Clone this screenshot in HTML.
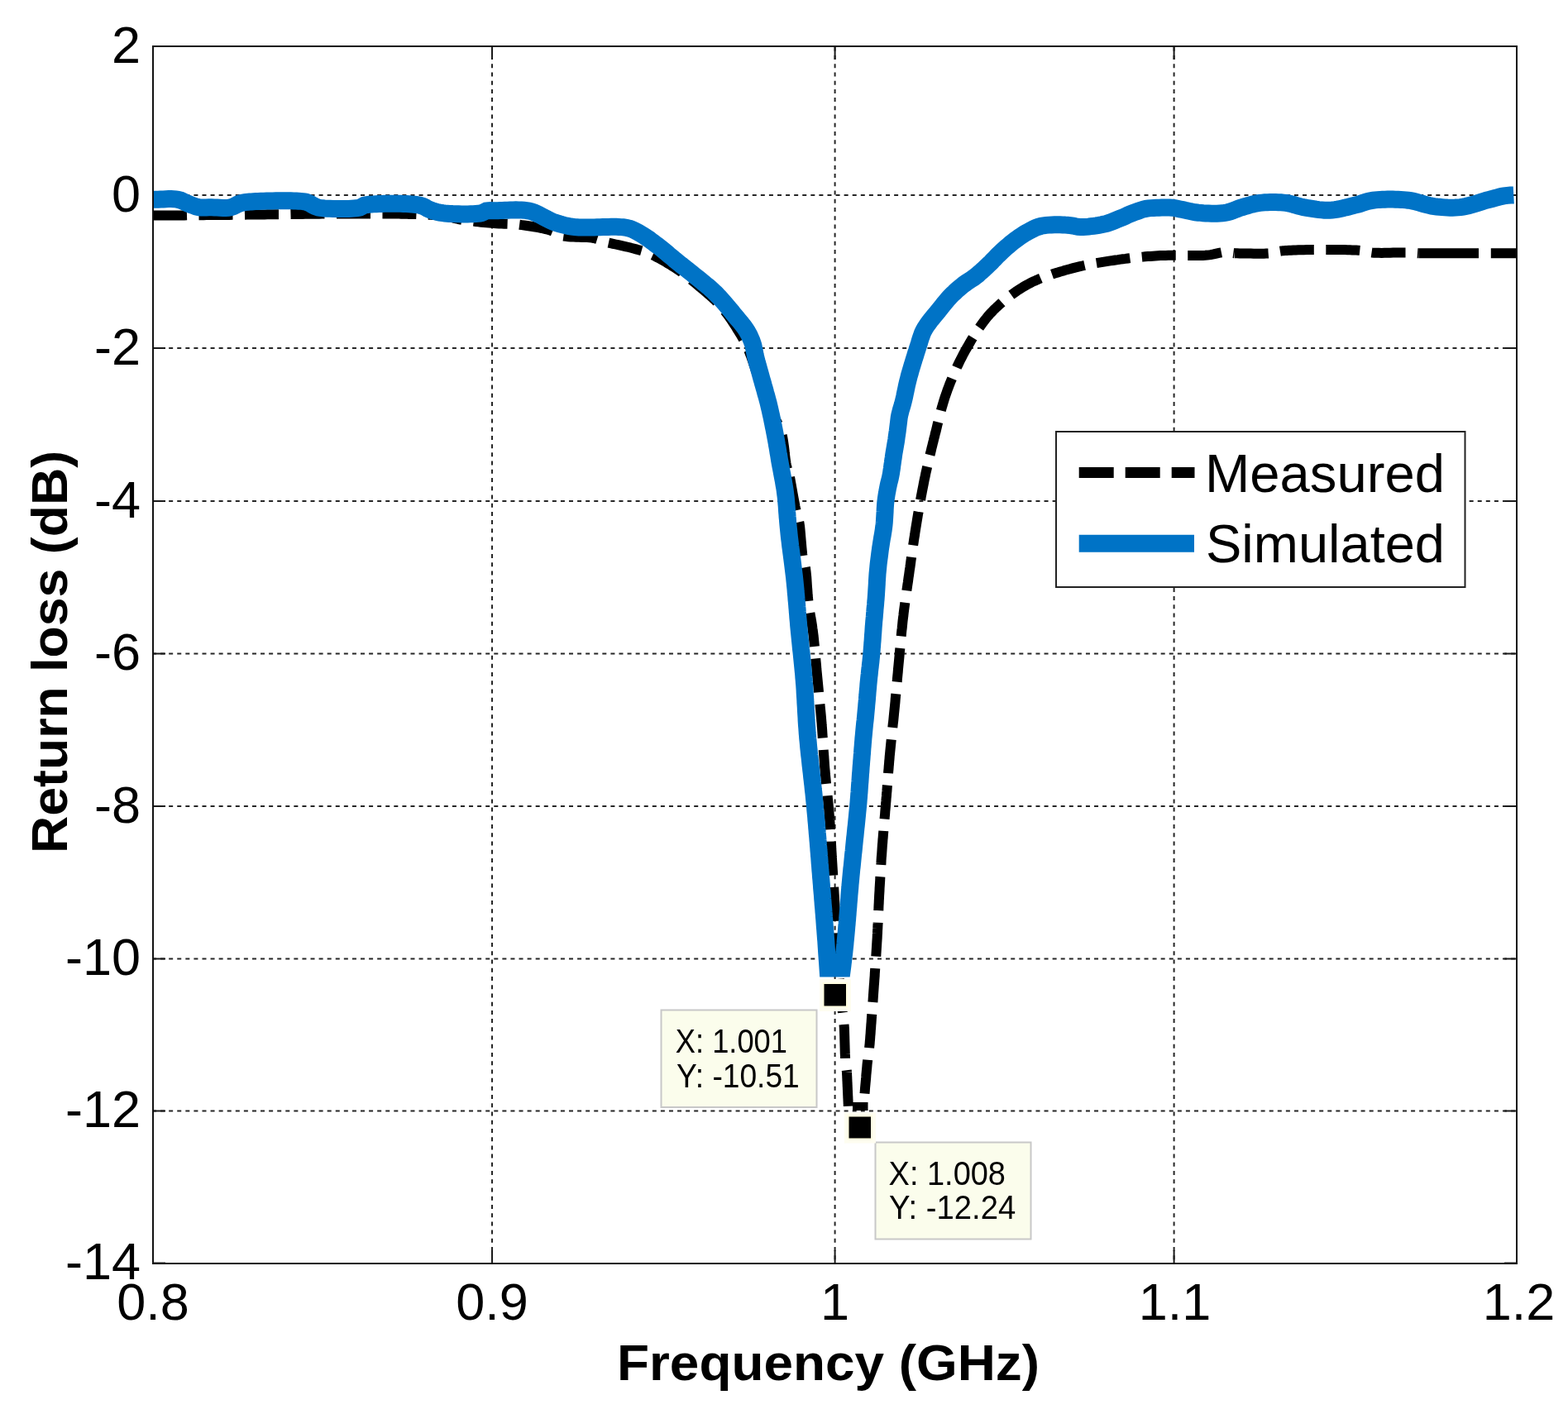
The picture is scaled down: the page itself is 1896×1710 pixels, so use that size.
<!DOCTYPE html><html><head><meta charset="utf-8"><title>Return loss plot</title><style>
html,body{margin:0;padding:0;background:#fff;width:1896px;height:1710px;overflow:hidden}
svg{display:block}text{font-family:"Liberation Sans",Arial,Helvetica,sans-serif;fill:#000}
</style></head><body>
<svg width="1896" height="1710" viewBox="0 0 1896 1710">
<rect x="0" y="0" width="1896" height="1710" fill="#fff"/>
<g stroke="#262626" stroke-width="2" fill="none">
<line x1="595" y1="56.8" x2="595" y2="1528" stroke-dasharray="5 5.22"/>
<line x1="1009.6" y1="56.8" x2="1009.6" y2="1528" stroke-dasharray="5 5.22"/>
<line x1="1419.6" y1="56.8" x2="1419.6" y2="1528" stroke-dasharray="5 5.22"/>
<line x1="185" y1="236" x2="1834" y2="236" stroke-dasharray="5 5.08" stroke-dashoffset="1"/>
<line x1="185" y1="421" x2="1834" y2="421" stroke-dasharray="5 5.08" stroke-dashoffset="1"/>
<line x1="185" y1="606" x2="1834" y2="606" stroke-dasharray="5 5.08" stroke-dashoffset="1"/>
<line x1="185" y1="790.5" x2="1834" y2="790.5" stroke-dasharray="5 5.08" stroke-dashoffset="1"/>
<line x1="185" y1="975" x2="1834" y2="975" stroke-dasharray="5 5.08" stroke-dashoffset="1"/>
<line x1="185" y1="1159.5" x2="1834" y2="1159.5" stroke-dasharray="5 5.08" stroke-dashoffset="1"/>
<line x1="185" y1="1343.5" x2="1834" y2="1343.5" stroke-dasharray="5 5.08" stroke-dashoffset="1"/>
</g>
<g stroke="#1a1a1a" stroke-width="2" fill="none">
<line x1="185" y1="56" x2="185" y2="72"/><line x1="185" y1="1528" x2="185" y2="1512"/>
<line x1="595" y1="56" x2="595" y2="72"/><line x1="595" y1="1528" x2="595" y2="1512"/>
<line x1="1009.6" y1="56" x2="1009.6" y2="72"/><line x1="1009.6" y1="1528" x2="1009.6" y2="1512"/>
<line x1="1419.6" y1="56" x2="1419.6" y2="72"/><line x1="1419.6" y1="1528" x2="1419.6" y2="1512"/>
<line x1="1834" y1="56" x2="1834" y2="72"/><line x1="1834" y1="1528" x2="1834" y2="1512"/>
<line x1="185" y1="56" x2="200" y2="56"/><line x1="1834" y1="56" x2="1819" y2="56"/>
<line x1="185" y1="236" x2="200" y2="236"/><line x1="1834" y1="236" x2="1819" y2="236"/>
<line x1="185" y1="421" x2="200" y2="421"/><line x1="1834" y1="421" x2="1819" y2="421"/>
<line x1="185" y1="606" x2="200" y2="606"/><line x1="1834" y1="606" x2="1819" y2="606"/>
<line x1="185" y1="790.5" x2="200" y2="790.5"/><line x1="1834" y1="790.5" x2="1819" y2="790.5"/>
<line x1="185" y1="975" x2="200" y2="975"/><line x1="1834" y1="975" x2="1819" y2="975"/>
<line x1="185" y1="1159.5" x2="200" y2="1159.5"/><line x1="1834" y1="1159.5" x2="1819" y2="1159.5"/>
<line x1="185" y1="1343.5" x2="200" y2="1343.5"/><line x1="1834" y1="1343.5" x2="1819" y2="1343.5"/>
<line x1="185" y1="1527.5" x2="200" y2="1527.5"/><line x1="1834" y1="1527.5" x2="1819" y2="1527.5"/>
</g>
<clipPath id="ax"><rect x="185" y="56" width="1649" height="1472"/></clipPath>
<g clip-path="url(#ax)" fill="none">
<polyline points="1715.3,306.3 1788.0,306.3" stroke="#000" stroke-width="12"/>
<polyline points="1024.0,1296.8 1025.9,1339.4" stroke="#000" stroke-width="12" stroke-dasharray="41 14.5"/>
<polyline points="1031.0,1338.0 1049.5,1338.0" stroke="#000" stroke-width="10"/>
<polyline points="185.0,260.5 188.0,260.5 191.1,260.5 194.1,260.5 197.2,260.5 200.3,260.5 203.5,260.5 206.7,260.5 209.8,260.4 213.1,260.4 216.3,260.4 219.6,260.4 222.8,260.4 226.1,260.3 229.4,260.3 232.8,260.3 236.1,260.3 239.5,260.2 242.9,260.2 246.3,260.2 249.7,260.1 253.1,260.1 256.6,260.1 260.0,260.0 263.5,260.0 267.0,260.0 270.4,259.9 273.9,259.9 277.4,259.9 280.9,259.8 284.5,259.8 288.0,259.7 291.5,259.7 295.0,259.7 298.6,259.6 302.1,259.6 305.7,259.5 309.2,259.5 312.8,259.5 316.3,259.4 319.8,259.4 323.4,259.3 326.9,259.3 330.5,259.3 334.0,259.2 337.5,259.2 341.1,259.1 344.6,259.1 348.1,259.1 351.6,259.0 355.1,259.0 358.6,258.9 362.1,258.9 365.5,258.9 369.0,258.8 372.5,258.8 375.9,258.8 379.3,258.7 382.7,258.7 386.1,258.7 389.5,258.6 392.9,258.6 396.2,258.6 399.5,258.6 402.8,258.5 406.1,258.5 409.4,258.5 412.7,258.5 415.9,258.5 419.1,258.4 422.3,258.4 425.4,258.4 428.6,258.4 431.7,258.4 434.8,258.4 437.8,258.4 440.9,258.4 443.9,258.4 446.8,258.4 449.8,258.4 452.7,258.4 455.6,258.4 458.5,258.4 461.3,258.4 464.1,258.4 466.8,258.5 469.5,258.5 472.2,258.5 474.9,258.5 477.5,258.6 480.1,258.6 482.6,258.6 485.1,258.7 487.5,258.7 490.0,258.8 492.3,258.8 494.7,258.9 497.0,258.9 499.2,259.0 501.4,259.0 503.6,259.1 505.7,259.2 507.7,259.2 509.8,259.3 511.7,259.4 513.6,259.5 515.5,259.6 517.3,259.6 519.1,259.7 520.8,259.8 522.5,259.9 524.1,260.0 525.7,260.1 527.2,260.3 528.6,260.4 530.0,260.5 534.3,261.0 538.1,261.5 541.3,262.0 544.2,262.6 546.8,263.2 549.3,263.8 551.7,264.4 554.2,265.0 557.0,265.5 560.0,266.0 562.9,266.4 565.9,266.8 569.0,267.2 572.2,267.6 575.4,268.0 578.6,268.3 581.8,268.7 585.0,269.0 588.2,269.3 591.3,269.6 594.3,269.8 597.2,270.1 600.0,270.3 603.4,270.5 606.5,270.6 609.6,270.7 612.5,270.7 615.5,270.8 618.5,270.9 621.6,271.1 625.0,271.4 627.8,271.7 630.9,272.1 634.0,272.5 637.3,273.0 640.7,273.5 644.1,274.0 647.4,274.6 650.8,275.2 654.0,275.8 657.0,276.4 659.9,277.1 662.6,277.8 665.0,278.5 668.2,279.8 670.8,281.2 673.2,282.6 675.8,283.9 679.0,285.0 681.4,285.5 684.1,285.9 687.0,286.2 690.1,286.4 693.4,286.6 696.7,286.7 700.1,286.8 703.4,286.9 706.7,287.0 709.9,287.1 712.8,287.3 715.6,287.6 718.0,288.0 721.4,288.8 724.3,289.7 726.9,290.7 729.7,291.8 733.0,292.8 735.5,293.5 738.3,294.1 741.3,294.8 744.4,295.5 747.6,296.2 750.8,296.9 754.0,297.6 757.2,298.3 760.3,299.0 763.2,299.8 766.0,300.5 769.2,301.4 772.3,302.2 775.2,303.1 778.0,303.9 780.9,304.9 783.8,306.1 787.0,307.4 789.4,308.5 791.9,309.7 794.5,311.1 797.2,312.5 799.9,314.0 802.6,315.5 805.4,317.1 808.1,318.8 810.8,320.4 813.5,322.1 816.1,323.8 818.6,325.4 821.0,327.0 823.6,328.8 826.1,330.6 828.6,332.5 831.0,334.3 833.3,336.2 835.6,338.1 837.9,340.0 840.2,341.9 842.6,343.9 845.0,346.0 847.3,347.9 849.6,349.8 851.9,351.8 854.2,353.8 856.6,355.8 858.9,357.8 861.2,359.9 863.5,362.0 865.8,364.2 868.0,366.4 870.2,368.7 872.3,371.0 874.3,373.4 876.3,375.9 878.3,378.5 880.3,381.2 882.2,384.0 884.2,386.7 886.0,389.5 887.8,392.3 889.6,395.0 891.2,397.7 892.8,400.2 894.3,402.7 895.7,405.0 897.6,408.2 899.2,411.1 900.7,413.9 902.1,416.6 903.5,419.6 905.0,423.0 906.0,425.4 907.0,428.0 908.0,430.6 909.0,433.5 910.0,436.3 911.0,439.3 912.0,442.3 913.0,445.3 914.0,448.4 915.0,451.4 916.0,454.3 917.0,457.2 918.0,460.0 919.1,463.0 920.2,466.0 921.2,468.9 922.3,471.9 923.3,474.8 924.4,477.7 925.4,480.6 926.5,483.5 927.7,486.3 928.8,489.2 930.0,492.0 931.3,494.8 932.6,497.5 934.0,500.1 935.4,502.8 936.9,505.4 938.3,508.0 939.7,510.7 941.1,513.4 942.3,516.2 943.5,519.0 944.5,522.0 945.3,525.0 946.1,528.1 946.7,531.4 947.2,534.7 947.7,538.2 948.2,541.6 948.6,545.1 948.9,548.5 949.3,551.7 949.7,554.9 950.1,557.8 950.5,560.5 951.0,563.0 952.0,567.0 953.0,570.5 954.0,573.7 955.0,577.0" stroke="#000" stroke-width="12" stroke-dasharray="41 14.5" stroke-dashoffset="0" stroke-linejoin="round"/>
<polyline points="955.0,577.0 955.6,580.2 956.2,583.5 956.8,586.8 957.4,590.2 958.0,593.6 958.6,597.0 959.2,600.3 959.8,603.6 960.4,606.7 961.0,609.7 961.5,612.6 962.1,615.3 962.6,617.7 963.6,621.6 964.6,624.8 965.5,628.1 966.4,632.0 966.8,634.5 967.2,637.3 967.5,640.4 967.8,643.7 968.1,647.2 968.4,650.7 968.7,654.3 969.0,657.8 969.3,661.3 969.6,664.6 969.9,667.7 970.2,670.5 970.6,673.0 971.4,676.9 972.3,680.0 973.2,683.1 974.0,687.0 974.3,689.3 974.6,691.8 974.9,694.6 975.2,697.5 975.4,700.5 975.6,703.6 975.8,706.9 976.0,710.1 976.3,713.4 976.5,716.7 976.7,719.9 977.0,723.0 977.3,726.1 977.6,729.0 978.0,732.2 978.5,735.3 978.9,738.4 979.4,741.4 979.9,744.3 980.4,747.3 981.0,750.3 981.5,753.4 982.0,756.5 982.4,759.8 982.9,763.2 983.2,765.9 983.6,768.7 983.9,771.6 984.2,774.5 984.5,777.5 984.8,780.5 985.1,783.5 985.4,786.6 985.7,789.7 985.9,792.9 986.2,796.0 986.5,799.2 986.8,802.4 987.1,805.5 987.3,808.7 987.6,811.8 987.9,814.9 988.2,818.0 988.5,821.1 988.8,824.2 989.1,827.3 989.4,830.4 989.7,833.6 990.0,836.7 990.3,839.8 990.6,842.9 990.9,846.1 991.2,849.2 991.5,852.3 991.8,855.5 992.1,858.6 992.4,861.7 992.7,864.8 993.0,868.0 993.2,871.1 993.5,874.2 993.7,877.3 994.0,880.4 994.2,883.5 994.4,886.6 994.6,889.7 994.8,892.8 995.0,895.9 995.2,899.0 995.4,902.1 995.6,905.2 995.8,908.3 996.0,911.4 996.3,914.5 996.5,917.6 996.7,920.7 996.9,923.8 997.1,926.9 997.4,930.0 997.7,933.1 997.9,936.1 998.2,939.2 998.5,942.2 998.8,945.3 999.1,948.3 999.4,951.4 999.8,954.4 1000.1,957.5 1000.4,960.5 1000.7,963.6 1001.0,966.6 1001.3,969.7 1001.6,972.7 1001.9,975.8 1002.2,978.8 1002.4,981.9 1002.7,985.0 1002.9,988.0 1003.1,991.0 1003.4,993.9 1003.6,996.9 1003.8,999.9 1003.9,1002.9 1004.1,1005.9 1004.3,1008.9 1004.5,1012.0 1004.7,1015.0 1004.8,1018.0 1005.0,1021.0 1005.2,1024.0 1005.3,1027.0 1005.5,1030.0 1005.7,1033.0 1005.8,1036.0 1006.0,1039.0 1006.2,1042.0 1006.4,1045.1 1006.6,1048.3 1006.8,1051.5 1007.0,1054.7 1007.2,1058.0 1007.4,1061.2 1007.6,1064.4 1007.8,1067.6 1008.0,1070.8 1008.2,1074.0 1008.4,1077.2 1008.6,1080.3 1008.8,1083.4 1009.0,1086.4 1009.1,1089.4 1009.3,1092.4 1009.5,1095.2 1009.6,1098.0 1009.8,1101.5 1009.9,1104.8 1010.0,1107.9 1010.1,1111.0 1010.2,1114.1 1010.3,1117.1 1010.4,1120.1 1010.5,1123.2 1010.7,1126.3 1010.8,1129.6 1011.0,1133.0 1011.2,1135.8 1011.4,1138.7 1011.5,1141.7 1011.8,1144.7 1012.0,1147.8 1012.2,1150.9 1012.4,1154.0 1012.7,1157.2 1012.9,1160.4 1013.2,1163.6 1013.4,1166.7 1013.7,1169.9 1014.0,1173.0 1014.2,1176.1 1014.5,1179.1 1014.7,1182.1 1015.0,1185.0 1015.3,1188.3 1015.6,1191.6 1015.9,1195.0 1016.3,1198.3 1016.6,1201.6 1016.9,1204.8 1017.2,1208.0 1017.6,1211.2 1017.9,1214.2 1018.2,1217.1 1018.5,1219.9 1018.7,1222.5 1019.0,1225.0 1019.4,1228.6 1019.8,1231.6 1020.1,1234.5 1020.4,1237.6 1020.7,1241.2 1020.9,1243.8 1021.0,1246.8 1021.1,1249.9 1021.2,1253.3 1021.3,1256.8 1021.4,1260.4 1021.5,1264.0 1021.6,1267.5 1021.7,1271.0 1021.8,1274.3 1022.0,1277.4 1022.1,1280.3 1022.3,1282.8 1022.7,1286.8 1023.1,1290.3 1023.6,1293.5 1024.0,1296.8" stroke="#000" stroke-width="12" stroke-dasharray="41 14.5" stroke-dashoffset="0" stroke-linejoin="round"/>
<polyline points="1045.5,1322.5 1045.8,1319.4 1046.0,1316.3 1046.3,1313.0 1046.6,1309.8 1046.9,1306.5 1047.2,1303.2 1047.4,1299.9 1047.7,1296.8 1048.0,1293.7 1048.3,1290.7 1048.5,1287.8 1048.8,1285.1 1049.1,1282.7 1049.3,1280.4 1049.8,1276.8 1050.2,1273.9 1050.7,1271.0 1051.1,1267.4 1051.3,1265.1 1051.6,1262.5 1051.8,1259.6 1052.1,1256.5 1052.3,1253.3 1052.6,1250.0 1052.8,1246.6 1053.1,1243.1 1053.3,1239.8 1053.6,1236.4 1053.8,1233.2 1054.0,1230.2 1054.2,1227.4 1054.4,1224.8 1054.7,1221.2 1054.9,1218.0 1055.1,1215.0 1055.4,1212.1 1055.6,1209.1 1055.8,1206.0 1056.0,1203.1 1056.2,1200.3 1056.4,1197.5 1056.6,1194.7 1056.8,1191.7 1057.1,1188.5 1057.3,1185.0 1057.5,1182.5 1057.7,1180.0 1057.8,1177.3 1058.0,1174.5 1058.2,1171.6 1058.4,1168.6 1058.7,1165.6 1058.9,1162.5 1059.1,1159.3 1059.3,1156.2 1059.5,1153.0 1059.7,1149.8 1059.9,1146.5 1060.1,1143.3 1060.3,1140.1 1060.5,1137.0 1060.7,1134.1 1060.8,1131.2 1061.0,1128.3 1061.1,1125.3 1061.3,1122.3 1061.4,1119.3 1061.6,1116.3 1061.7,1113.3 1061.8,1110.3 1062.0,1107.2 1062.1,1104.2 1062.3,1101.1 1062.4,1098.1 1062.5,1095.1 1062.7,1092.0 1062.8,1089.0 1063.0,1086.0 1063.1,1083.0 1063.3,1080.0 1063.5,1076.9 1063.6,1073.8 1063.8,1070.8 1064.0,1067.7 1064.2,1064.7 1064.3,1061.6 1064.5,1058.6 1064.7,1055.5 1064.9,1052.5 1065.1,1049.4 1065.3,1046.4 1065.5,1043.3 1065.6,1040.3 1065.8,1037.2 1066.1,1034.2 1066.3,1031.1 1066.5,1028.1 1066.7,1025.0 1066.9,1021.9 1067.2,1018.8 1067.4,1015.7 1067.7,1012.6 1067.9,1009.5 1068.2,1006.4 1068.4,1003.3 1068.7,1000.2 1069.0,997.1 1069.3,993.9 1069.5,990.8 1069.8,987.7 1070.1,984.6 1070.3,981.5 1070.6,978.4 1070.9,975.2 1071.1,972.1 1071.4,969.0 1071.6,966.0 1071.9,963.0 1072.1,960.0 1072.4,957.0 1072.6,954.0 1072.8,951.0 1073.1,948.0 1073.3,945.0 1073.5,941.9 1073.8,938.9 1074.0,935.9 1074.2,932.9 1074.5,929.9 1074.7,926.9 1075.0,923.9 1075.2,920.9 1075.5,917.9 1075.7,915.0 1076.0,912.0 1076.3,908.9 1076.6,905.9 1076.9,902.9 1077.2,899.8 1077.5,896.8 1077.8,893.8 1078.1,890.8 1078.4,887.8 1078.8,884.8 1079.1,881.8 1079.4,878.8 1079.7,875.8 1080.1,872.8 1080.4,869.8 1080.7,866.7 1081.0,863.7 1081.3,860.7 1081.6,857.7 1081.9,854.7 1082.2,851.6 1082.5,848.6 1082.7,845.6 1083.0,842.5 1083.3,839.5 1083.6,836.5 1083.8,833.4 1084.1,830.4 1084.4,827.4 1084.7,824.3 1084.9,821.3 1085.2,818.2 1085.5,815.2 1085.8,812.1 1086.0,809.1 1086.3,806.1 1086.6,803.0 1086.9,799.9 1087.2,796.8 1087.5,793.7 1087.7,790.6 1088.0,787.6 1088.3,784.5 1088.6,781.4 1088.9,778.3 1089.1,775.2 1089.4,772.1 1089.7,769.0 1090.0,765.9 1090.3,762.8 1090.7,759.7 1091.0,756.6 1091.3,753.5 1091.6,750.4 1092.0,747.3 1092.4,744.2 1092.7,741.2 1093.1,738.1 1093.5,735.0 1093.9,732.0 1094.3,728.9 1094.7,725.8 1095.2,722.8 1095.6,719.7 1096.0,716.6 1096.4,713.6 1096.9,710.5 1097.3,707.5 1097.8,704.4 1098.2,701.4 1098.6,698.3 1099.1,695.3 1099.5,692.2 1099.9,689.2 1100.4,686.1 1100.8,683.1 1101.2,680.1 1101.6,677.0 1102.1,674.0 1102.5,671.0 1102.9,667.9 1103.4,664.9 1103.8,661.9 1104.2,658.8 1104.7,655.8 1105.1,652.8 1105.6,649.8 1106.1,646.7 1106.5,643.7 1107.0,640.6 1107.5,637.6 1108.0,634.5 1108.5,631.4 1109.0,628.3 1109.5,625.2 1110.0,622.1 1110.6,619.0 1111.1,615.9 1111.6,612.8 1112.2,609.7 1112.7,606.6 1113.3,603.5 1113.8,600.4 1114.4,597.3 1115.0,594.2 1115.6,591.1 1116.2,588.1 1116.8,585.0 1117.4,581.9 1118.0,578.8 1118.7,575.8 1119.3,572.7 1120.0,569.7 1120.7,566.6 1121.4,563.6 1122.1,560.5 1122.8,557.5 1123.5,554.4 1124.2,551.4 1125.0,548.3 1125.7,545.3 1126.4,542.3 1127.2,539.3 1127.9,536.2 1128.7,533.2 1129.4,530.2 1130.2,527.2 1130.9,524.2 1131.7,521.3 1132.4,518.3 1133.1,515.4 1133.8,512.4 1134.6,509.5 1135.3,506.5 1136.0,503.6 1136.8,500.7 1137.5,497.8 1138.3,494.8 1139.1,491.9 1140.0,489.0 1140.8,486.1 1141.7,483.2 1142.6,480.3 1143.6,477.5 1144.6,474.6 1145.6,471.7 1146.7,468.8 1147.8,465.9 1148.9,463.0 1150.1,460.2 1151.3,457.3 1152.5,454.4 1153.7,451.5 1154.9,448.7 1156.2,445.9 1157.5,443.0 1158.9,440.2 1160.2,437.4 1161.6,434.6 1163.0,431.9 1164.4,429.1 1165.9,426.4 1167.4,423.7 1168.9,421.0 1170.4,418.3 1172.0,415.7 1173.5,413.0 1175.1,410.3 1176.7,407.7 1178.3,405.0 1180.0,402.4 1181.7,399.8 1183.4,397.2 1185.2,394.7 1187.0,392.2 1188.8,389.7 1190.7,387.3 1192.6,384.9 1194.5,382.5 1196.5,380.2 1198.6,378.0 1200.7,375.8 1202.9,373.6 1205.1,371.5 1207.4,369.4 1209.7,367.3 1212.0,365.2 1214.4,363.2 1216.8,361.3 1219.3,359.3 1221.8,357.4 1224.3,355.6 1226.8,353.8 1229.4,352.0 1232.0,350.3 1234.6,348.7 1237.2,347.0 1239.8,345.5 1242.5,344.0 1245.2,342.6 1247.9,341.2 1250.6,339.9 1253.3,338.7 1256.1,337.5 1258.9,336.3 1261.8,335.2 1264.7,334.2 1267.5,333.2 1270.4,332.2 1273.3,331.2 1276.3,330.3 1279.2,329.4 1282.1,328.5 1285.1,327.7 1288.0,326.8 1291.0,326.0 1293.9,325.2 1296.9,324.4 1299.9,323.6 1302.9,322.9 1305.9,322.2 1308.9,321.5 1312.0,320.8 1315.0,320.2 1318.1,319.6 1321.2,319.0 1324.2,318.4 1327.3,317.9 1330.4,317.4 1333.5,316.9 1336.5,316.4 1339.6,315.9 1342.7,315.4 1345.7,315.0 1348.8,314.5 1351.8,314.1 1354.8,313.6 1357.8,313.2 1360.8,312.9 1363.8,312.5 1366.8,312.1 1369.9,311.8 1372.9,311.5 1375.9,311.2 1378.9,310.9 1381.9,310.6 1384.9,310.3 1387.9,310.1 1390.9,309.9 1394.0,309.7 1397.0,309.5 1400.1,309.3 1403.1,309.1 1406.3,309.0 1409.5,308.9 1412.8,308.8 1416.1,308.8 1419.5,308.8 1422.9,308.8 1426.3,308.9 1429.7,308.9 1433.1,309.0 1436.4,309.0 1439.7,309.1 1442.9,309.1 1446.0,309.1 1449.0,309.1 1451.9,309.0 1454.7,308.9 1457.3,308.8 1459.7,308.6 1463.7,308.1 1467.4,307.4 1470.8,306.6 1474.0,305.9 1477.0,305.3 1480.0,305.0 1483.4,305.1 1486.5,305.4 1489.6,305.9 1492.7,306.3" stroke="#000" stroke-width="12" stroke-dasharray="41 14.5" stroke-dashoffset="0" stroke-linejoin="round"/>
<polyline points="1492.7,306.3 1495.8,306.3 1499.1,306.4 1502.4,306.4 1505.8,306.5 1509.2,306.6 1512.5,306.6 1515.9,306.7 1519.1,306.7 1522.3,306.8 1525.4,306.8 1528.3,306.7 1531.1,306.6 1533.6,306.5 1536.0,306.3 1539.8,305.7 1542.7,304.9 1545.8,304.1 1550.0,303.4 1551.8,303.2 1553.8,303.1 1556.0,302.9 1558.5,302.8 1561.1,302.7 1563.9,302.5 1566.9,302.4 1570.0,302.3 1573.3,302.2 1576.6,302.2 1580.1,302.1 1583.6,302.0 1587.2,302.0 1590.8,302.0 1594.5,301.9 1598.2,301.9 1601.9,301.9 1605.5,301.9 1609.1,301.9 1612.7,301.9 1616.2,302.0 1619.7,302.0 1623.0,302.1 1626.2,302.1 1629.3,302.2 1632.3,302.3 1635.1,302.4 1637.7,302.5 1640.1,302.6 1642.3,302.7 1644.3,302.9 1646.0,303.0 1649.9,303.6 1652.8,304.3 1655.5,305.0 1659.0,305.5 1661.5,305.7 1664.2,305.8 1667.3,305.8 1670.6,305.9 1674.0,305.8 1677.5,305.8 1681.1,305.7 1684.6,305.6 1688.1,305.6 1691.4,305.5 1694.6,305.5 1697.4,305.5 1700.0,305.5 1703.5,305.6 1706.7,305.8 1709.5,306.0 1712.4,306.1 1715.3,306.3" stroke="#000" stroke-width="12" stroke-dasharray="41 14.5" stroke-dashoffset="0" stroke-linejoin="round"/>
<polyline points="1802.8,306.3 1806.0,306.3 1809.1,306.3 1812.3,306.3 1815.5,306.3 1818.6,306.3 1821.8,306.3 1825.0,306.3 1828.2,306.3 1831.3,306.3 1834.5,306.3" stroke="#000" stroke-width="12" stroke-dasharray="41 14.5" stroke-dashoffset="0" stroke-linejoin="round"/>
<polyline points="185.0,241.3 188.1,241.3 191.2,241.2 194.4,241.0 197.6,240.9 200.8,240.7 203.9,240.6 207.0,240.6 209.8,240.7 212.5,240.9 215.0,241.3 218.7,242.3 221.9,243.7 224.9,245.2 228.0,246.5 231.0,247.7 233.9,248.8 236.9,249.9 240.0,250.6 243.0,250.9 246.1,251.0 249.3,251.0 252.6,250.8 256.0,250.8 259.1,250.9 262.5,251.0 266.0,251.2 269.6,251.4 273.0,251.4 276.2,251.2 279.0,250.8 282.1,249.8 284.8,248.5 287.4,247.1 290.0,246.0 293.0,245.2 296.0,244.6 300.0,244.2 301.8,244.0 304.0,243.9 306.5,243.7 309.3,243.6 312.3,243.5 315.5,243.3 318.9,243.2 322.4,243.1 326.1,243.0 329.8,242.9 333.5,242.8 337.3,242.8 341.0,242.7 344.7,242.7 348.3,242.8 351.8,242.8 355.1,242.9 358.3,243.0 361.2,243.2 363.9,243.4 366.2,243.6 368.3,243.9 370.0,244.2 374.6,246.0 378.0,248.0 381.1,249.7 385.0,251.1 387.0,251.4 389.4,251.7 392.2,252.0 395.4,252.2 398.9,252.3 402.6,252.5 406.4,252.5 410.3,252.6 414.2,252.6 417.9,252.5 421.6,252.4 425.0,252.2 428.1,252.0 430.9,251.8 433.2,251.5 435.0,251.1 437.7,249.7 440.5,248.2 442.0,247.9 444.0,247.6 446.3,247.3 448.9,247.1 451.7,246.9 454.9,246.7 458.2,246.5 461.7,246.4 465.3,246.3 469.0,246.3 472.8,246.2 476.6,246.2 480.3,246.3 484.1,246.3 487.7,246.4 491.2,246.6 494.5,246.8 497.7,247.0 500.6,247.2 503.3,247.5 505.6,247.8 507.6,248.2 511.4,249.4 514.4,250.8 517.0,252.4 520.0,253.7 522.8,254.7 525.6,255.6 528.5,256.4 531.7,257.1 535.4,257.7 537.9,258.0 540.7,258.2 543.9,258.4 547.2,258.6 550.8,258.7 554.5,258.8 558.2,258.9 562.0,258.9 565.6,258.9 569.1,258.8 572.4,258.7 575.4,258.5 578.1,258.3 580.5,258.0 582.3,257.7 585.4,256.3 588.0,255.0 590.5,254.7 593.3,254.6 596.4,254.7 600.0,254.8 602.3,254.8 604.9,254.6 607.7,254.5 610.7,254.3 613.8,254.2 617.1,254.0 620.4,253.9 623.8,253.8 627.1,253.9 630.4,254.0 633.6,254.2 636.7,254.6 639.6,255.1 642.7,255.9 645.7,256.9 648.6,258.2 651.5,259.5 654.4,261.0 657.2,262.5 660.0,264.0 662.8,265.4 665.6,266.8 668.3,268.0 671.0,269.0 674.0,270.0 676.9,270.9 679.7,271.7 682.4,272.4 685.2,273.0 688.2,273.6 691.4,274.1 695.0,274.6 697.4,274.8 700.0,275.0 702.8,275.1 705.7,275.1 708.8,275.1 712.0,275.1 715.3,275.0 718.6,274.9 722.0,274.8 725.5,274.7 728.9,274.6 732.3,274.5 735.6,274.4 738.9,274.3 742.1,274.3 745.2,274.3 748.1,274.4 750.9,274.6 753.5,274.8 755.9,275.1 758.0,275.5 761.5,276.4 764.5,277.5 767.2,278.7 769.8,280.0 772.3,281.4 775.0,283.0 777.5,284.5 779.9,286.0 782.4,287.7 784.9,289.4 787.4,291.3 789.9,293.2 792.4,295.1 795.0,297.0 797.3,298.8 799.6,300.6 802.0,302.5 804.3,304.4 806.7,306.4 809.0,308.4 811.4,310.3 813.8,312.3 816.1,314.3 818.5,316.2 821.1,318.3 823.7,320.4 826.3,322.4 828.9,324.5 831.5,326.5 834.1,328.6 836.7,330.7 839.3,332.8 841.9,334.9 844.3,336.8 846.6,338.7 849.0,340.6 851.4,342.6 853.7,344.5 856.1,346.4 858.4,348.4 860.7,350.5 863.0,352.6 865.3,354.8 867.5,357.1 869.8,359.4 872.0,361.9 874.2,364.4 876.4,366.9 878.6,369.5 880.7,372.0 882.8,374.5 884.9,377.0 886.8,379.4 888.7,381.7 891.0,384.5 893.3,387.2 895.5,389.8 897.5,392.4 899.5,394.9 901.3,397.4 903.0,400.0 904.7,403.0 906.3,405.9 907.6,408.9 908.9,411.9 910.0,415.0 910.9,417.9 911.5,420.8 912.1,423.7 912.7,426.8 913.3,429.9 914.0,433.0 914.8,436.0 915.6,439.1 916.5,442.1 917.4,445.3 918.3,448.5 919.2,451.8 920.2,455.3 920.9,457.9 921.7,460.7 922.5,463.5 923.3,466.4 924.2,469.4 925.0,472.3 925.8,475.4 926.7,478.4 927.5,481.4 928.3,484.4 929.1,487.4 929.8,490.4 930.6,493.6 931.3,496.7 932.0,499.9 932.7,503.1 933.4,506.3 934.0,509.5 934.7,512.7 935.3,515.8 936.0,519.0 936.6,522.2 937.2,525.4 937.8,528.6 938.4,531.8 939.0,535.0 939.5,538.2 940.1,541.3 940.6,544.5 941.1,547.7 941.7,550.9 942.2,554.1 942.7,557.3 943.3,560.5 943.9,563.7 944.5,566.9 945.1,570.1 945.7,573.3 946.3,576.4 946.9,579.6 947.5,582.8 948.0,586.0 948.6,589.2 949.1,592.4 949.5,595.6 949.9,598.8 950.3,602.1 950.6,605.4 950.9,608.8 951.2,612.1 951.4,615.4 951.6,618.7 951.9,621.9 952.1,625.0 952.4,627.9 952.6,630.7 952.9,634.1 953.2,637.2 953.5,640.1 953.8,643.1 954.1,646.3 954.5,650.0 954.8,652.4 955.1,654.8 955.4,657.5 955.7,660.2 956.1,663.0 956.5,666.0 956.9,669.0 957.3,672.0 957.7,675.2 958.1,678.3 958.5,681.6 958.9,684.8 959.3,688.0 959.7,691.2 960.1,694.5 960.5,697.6 960.8,700.8 961.1,703.7 961.4,706.7 961.7,709.6 962.0,712.6 962.2,715.6 962.5,718.7 962.8,721.7 963.0,724.8 963.3,727.8 963.6,730.9 963.8,734.0 964.1,737.1 964.3,740.2 964.6,743.3 964.8,746.3 965.1,749.4 965.4,752.5 965.6,755.6 965.9,758.7 966.2,761.7 966.5,764.7 966.8,767.8 967.1,770.8 967.4,773.8 967.7,776.8 968.0,779.8 968.3,782.9 968.6,785.9 969.0,788.9 969.3,791.9 969.6,794.9 969.9,797.9 970.2,801.0 970.5,804.0 970.8,807.1 971.1,810.1 971.4,813.2 971.7,816.3 971.9,819.4 972.2,822.5 972.4,825.5 972.7,828.5 972.9,831.5 973.1,834.5 973.2,837.5 973.4,840.5 973.6,843.5 973.8,846.5 973.9,849.5 974.1,852.5 974.3,855.6 974.4,858.6 974.6,861.7 974.8,864.8 975.0,867.9 975.1,871.0 975.3,874.1 975.5,877.2 975.8,880.4 976.0,883.6 976.2,886.8 976.5,890.0 976.7,892.8 977.0,895.7 977.3,898.6 977.5,901.4 977.8,904.3 978.1,907.2 978.4,910.2 978.7,913.1 979.1,916.1 979.4,919.0 979.7,922.0 980.0,925.0 980.4,928.0 980.7,931.0 981.1,934.0 981.4,937.0 981.7,940.0 982.1,943.0 982.4,946.1 982.8,949.1 983.1,952.2 983.4,955.2 983.8,958.3 984.1,961.3 984.4,964.4 984.7,967.5 985.0,970.5 985.3,973.6 985.6,976.5 985.8,979.5 986.1,982.5 986.4,985.5 986.7,988.5 986.9,991.6 987.2,994.6 987.5,997.7 987.7,1000.8 988.0,1003.9 988.2,1007.0 988.5,1010.1 988.8,1013.2 989.0,1016.2 989.3,1019.3 989.5,1022.4 989.8,1025.5 990.0,1028.6 990.3,1031.7 990.5,1034.7 990.8,1037.8 991.0,1040.8 991.2,1043.8 991.5,1046.8 991.7,1049.8 991.9,1052.7 992.2,1055.6 992.4,1058.5 992.6,1061.4 992.9,1064.2 993.1,1067.0 993.4,1070.3 993.6,1073.7 993.9,1077.0 994.2,1080.3 994.5,1083.6 994.7,1086.9 995.0,1090.2 995.2,1093.4 995.5,1096.6 995.8,1099.8 996.0,1103.0 996.3,1106.1 996.5,1109.2 996.8,1112.3 997.0,1115.3 997.2,1118.3 997.4,1121.2 997.7,1124.1 997.9,1126.9 998.1,1129.7 998.3,1132.4 998.5,1135.0 998.8,1138.4 999.0,1141.7 999.2,1144.8 999.4,1147.8 999.6,1150.8 999.8,1153.7 1000.0,1156.6 1000.2,1159.4 1000.4,1162.3 1000.6,1165.1 1000.8,1168.0 1001.0,1171.0 1018.5,1171.0 1018.9,1168.0 1019.2,1165.1 1019.6,1162.1 1019.9,1159.2 1020.3,1156.2 1020.7,1153.1 1021.0,1150.0 1021.3,1147.2 1021.6,1144.4 1021.9,1141.6 1022.1,1138.8 1022.4,1135.9 1022.7,1132.8 1023.0,1129.7 1023.3,1126.4 1023.6,1123.0 1023.8,1120.4 1024.1,1117.6 1024.3,1114.8 1024.6,1111.8 1024.8,1108.8 1025.1,1105.6 1025.3,1102.5 1025.6,1099.2 1025.9,1096.0 1026.1,1092.7 1026.4,1089.4 1026.7,1086.0 1026.9,1082.8 1027.2,1079.5 1027.5,1076.3 1027.8,1073.1 1028.0,1070.0 1028.3,1067.0 1028.6,1063.7 1028.9,1060.5 1029.2,1057.3 1029.5,1054.2 1029.8,1051.0 1030.2,1047.9 1030.5,1044.8 1030.8,1041.7 1031.1,1038.6 1031.4,1035.5 1031.7,1032.4 1032.1,1029.3 1032.4,1026.2 1032.7,1023.1 1033.0,1020.0 1033.3,1016.9 1033.6,1013.8 1034.0,1010.7 1034.3,1007.6 1034.6,1004.5 1034.9,1001.4 1035.3,998.2 1035.6,995.1 1035.9,992.0 1036.2,989.0 1036.5,985.9 1036.8,982.8 1037.1,979.7 1037.4,976.7 1037.7,973.6 1038.0,970.4 1038.2,967.3 1038.5,964.1 1038.7,961.0 1039.0,957.9 1039.2,954.7 1039.4,951.6 1039.6,948.5 1039.9,945.4 1040.1,942.3 1040.3,939.2 1040.5,936.1 1040.8,933.1 1041.0,930.0 1041.2,926.9 1041.5,923.7 1041.7,920.6 1042.0,917.4 1042.2,914.3 1042.5,911.2 1042.7,908.0 1042.9,905.0 1043.2,901.9 1043.4,898.9 1043.7,895.9 1043.9,892.9 1044.2,890.0 1044.5,886.7 1044.8,883.5 1045.1,880.3 1045.4,877.2 1045.7,874.1 1046.1,871.0 1046.4,867.9 1046.7,864.7 1047.0,861.5 1047.3,858.3 1047.6,855.4 1047.8,852.4 1048.1,849.3 1048.4,846.3 1048.6,843.2 1048.9,840.1 1049.1,837.1 1049.4,834.0 1049.7,830.9 1049.9,827.9 1050.2,824.9 1050.5,822.0 1050.8,818.8 1051.2,815.6 1051.5,812.5 1051.8,809.4 1052.2,806.3 1052.5,803.3 1052.9,800.2 1053.2,797.1 1053.5,793.9 1053.8,790.7 1054.1,787.5 1054.3,784.4 1054.6,781.1 1054.8,777.9 1055.1,774.6 1055.3,771.4 1055.5,768.1 1055.8,764.8 1056.0,761.5 1056.2,758.3 1056.5,755.0 1056.7,752.0 1057.0,749.0 1057.3,745.9 1057.5,742.8 1057.8,739.8 1058.0,736.7 1058.3,733.7 1058.6,730.7 1058.8,727.7 1059.1,724.7 1059.3,721.8 1059.5,719.0 1059.7,715.7 1059.9,712.5 1060.1,709.4 1060.3,706.3 1060.4,703.3 1060.6,700.2 1060.8,697.2 1061.0,694.1 1061.3,691.0 1061.6,687.9 1061.9,684.8 1062.2,681.6 1062.6,678.5 1063.0,675.4 1063.4,672.3 1063.8,669.1 1064.2,666.0 1064.6,662.9 1065.1,659.8 1065.6,656.7 1066.1,653.5 1066.6,650.4 1067.2,647.3 1067.7,644.2 1068.2,641.0 1068.6,637.9 1069.0,634.8 1069.3,631.7 1069.5,628.5 1069.7,625.3 1069.9,622.0 1070.1,618.9 1070.2,615.7 1070.4,612.6 1070.6,609.7 1070.9,606.8 1071.3,603.4 1071.8,600.1 1072.3,596.9 1072.9,593.9 1073.4,590.9 1074.0,588.0 1074.7,584.7 1075.5,581.6 1076.3,578.5 1077.0,575.0 1077.5,572.4 1077.9,569.5 1078.4,566.4 1078.8,563.2 1079.3,559.9 1079.7,556.7 1080.2,553.6 1080.6,550.6 1081.0,548.0 1081.6,544.4 1082.2,541.1 1082.7,538.0 1083.3,534.7 1083.8,531.5 1084.2,528.3 1084.7,524.9 1085.2,521.6 1085.6,518.3 1086.0,515.0 1086.4,511.7 1086.8,508.4 1087.2,505.2 1087.8,501.9 1088.6,498.7 1089.4,495.5 1090.4,492.3 1091.4,489.0 1092.3,485.5 1093.0,482.6 1093.7,479.6 1094.3,476.5 1095.0,473.2 1095.7,470.0 1096.3,466.9 1097.0,463.9 1097.7,461.0 1098.6,457.5 1099.4,454.3 1100.3,451.2 1101.2,448.0 1102.2,444.6 1103.0,441.9 1103.9,439.0 1104.8,436.1 1105.7,433.1 1106.7,430.1 1107.6,427.0 1108.6,424.1 1109.5,421.2 1110.5,418.1 1111.5,414.9 1112.4,411.7 1113.4,408.6 1114.5,405.6 1115.5,402.8 1116.7,400.2 1118.4,397.1 1120.2,394.3 1122.1,391.6 1124.0,389.0 1125.9,386.5 1127.8,384.2 1129.8,381.8 1132.1,379.1 1133.7,377.1 1135.5,374.9 1137.4,372.5 1139.4,370.0 1141.4,367.5 1143.5,365.0 1145.5,362.6 1147.6,360.2 1149.6,358.1 1151.8,355.8 1154.1,353.7 1156.3,351.6 1158.6,349.6 1160.9,347.7 1163.1,345.8 1165.4,344.0 1168.3,341.9 1171.2,339.9 1174.2,338.0 1177.1,336.1 1180.0,333.9 1182.3,332.1 1184.5,330.1 1186.8,328.1 1189.1,326.0 1191.3,323.9 1193.6,321.8 1195.8,319.7 1198.1,317.5 1200.3,315.2 1202.6,312.9 1204.8,310.6 1207.0,308.3 1209.3,306.1 1211.6,303.9 1214.2,301.5 1216.8,299.2 1219.5,296.9 1222.1,294.6 1224.8,292.5 1227.5,290.4 1230.1,288.5 1232.7,286.7 1235.3,284.9 1238.0,283.2 1240.6,281.6 1243.3,280.1 1246.3,278.5 1249.3,276.9 1252.3,275.5 1255.5,274.3 1259.1,273.3 1261.8,272.8 1264.9,272.4 1268.1,272.1 1271.5,271.9 1274.9,271.8 1278.3,271.8 1281.7,271.8 1285.0,271.9 1288.0,272.1 1290.8,272.2 1294.3,272.6 1297.5,273.1 1300.5,273.8 1303.5,274.3 1306.6,274.6 1309.8,274.6 1312.9,274.4 1316.1,274.1 1319.2,273.7 1322.4,273.3 1325.6,272.9 1328.7,272.4 1331.9,271.8 1335.1,271.1 1338.2,270.3 1341.4,269.3 1344.6,268.1 1347.7,266.9 1350.9,265.6 1354.0,264.3 1357.2,263.0 1360.4,261.6 1363.5,260.1 1366.7,258.8 1369.9,257.5 1373.0,256.3 1376.2,255.2 1379.3,254.1 1382.5,253.1 1385.7,252.4 1388.8,251.9 1392.0,251.6 1395.2,251.4 1398.3,251.3 1401.5,251.2 1404.7,251.1 1407.8,251.0 1411.0,250.9 1414.1,251.0 1417.3,251.2 1420.5,251.6 1423.7,252.2 1426.8,252.9 1430.0,253.6 1433.2,254.3 1436.3,254.9 1439.2,255.6 1442.3,256.2 1445.5,256.8 1449.0,257.2 1451.8,257.4 1454.8,257.7 1458.0,257.9 1461.4,258.0 1464.8,258.2 1468.2,258.2 1471.6,258.2 1475.0,258.0 1478.1,257.8 1481.1,257.4 1484.4,256.7 1487.5,255.9 1490.5,254.8 1493.4,253.7 1496.3,252.6 1499.2,251.5 1502.2,250.6 1505.2,249.7 1508.1,248.9 1511.0,248.0 1513.9,247.2 1516.9,246.5 1520.0,245.9 1523.3,245.4 1526.2,245.1 1529.3,244.8 1532.5,244.7 1535.8,244.6 1539.2,244.5 1542.5,244.6 1545.8,244.7 1549.0,244.8 1552.1,245.1 1555.0,245.4 1558.2,245.9 1561.2,246.6 1564.1,247.4 1566.9,248.3 1569.8,249.1 1572.8,249.9 1576.0,250.6 1578.9,251.1 1581.9,251.7 1585.0,252.2 1588.2,252.7 1591.4,253.2 1594.7,253.6 1598.0,253.9 1601.3,254.2 1604.5,254.3 1607.7,254.2 1610.9,254.0 1614.1,253.6 1617.4,253.1 1620.7,252.4 1623.9,251.7 1627.1,250.9 1630.3,250.2 1633.4,249.4 1636.4,248.6 1639.3,247.9 1642.5,247.1 1645.4,246.2 1648.2,245.2 1651.0,244.3 1653.9,243.5 1657.0,242.8 1660.4,242.2 1663.0,241.9 1665.7,241.6 1668.6,241.4 1671.6,241.3 1674.6,241.2 1677.8,241.1 1681.0,241.1 1684.2,241.1 1687.4,241.2 1690.6,241.3 1693.7,241.4 1696.8,241.6 1699.8,241.9 1702.6,242.2 1706.0,242.7 1709.3,243.3 1712.5,244.1 1715.6,245.0 1718.7,245.9 1721.8,246.8 1724.9,247.6 1728.0,248.4 1731.1,249.1 1734.3,249.6 1737.4,250.0 1740.6,250.3 1743.8,250.6 1746.9,250.9 1750.1,251.1 1753.3,251.2 1756.4,251.2 1759.6,251.1 1762.8,250.9 1765.9,250.6 1769.1,250.1 1772.4,249.5 1775.6,248.7 1778.9,247.8 1782.2,246.9 1785.4,245.9 1788.6,244.9 1791.7,243.9 1794.7,243.0 1797.6,242.2 1800.9,241.3 1804.1,240.5 1807.2,239.6 1810.2,238.8 1813.2,238.0 1815.9,237.4 1818.6,236.9 1822.7,236.4 1826.5,236.1 1830.3,235.9" stroke="#0073c6" stroke-width="21" stroke-linejoin="miter" stroke-miterlimit="10"/>
</g>
<rect x="185" y="56" width="1649" height="1472" fill="none" stroke="#111" stroke-width="2"/>
<g font-size="63">
<text x="185" y="1595.5" text-anchor="middle">0.8</text>
<text x="595" y="1595.5" text-anchor="middle">0.9</text>
<text x="1009.6" y="1595.5" text-anchor="middle">1</text>
<text x="1420.5" y="1595.5" text-anchor="middle">1.1</text>
<text x="1836.5" y="1595.5" text-anchor="middle">1.2</text>
<text x="170" y="75.5" text-anchor="end">2</text>
<text x="170" y="255.5" text-anchor="end">0</text>
<text x="170" y="440.5" text-anchor="end">-2</text>
<text x="170" y="625.5" text-anchor="end">-4</text>
<text x="170" y="810.0" text-anchor="end">-6</text>
<text x="170" y="994.5" text-anchor="end">-8</text>
<text x="170" y="1179.0" text-anchor="end">-10</text>
<text x="170" y="1363.0" text-anchor="end">-12</text>
<text x="170" y="1547.0" text-anchor="end">-14</text>
</g>
<text x="746" y="1668.8" font-size="61" font-weight="bold" textLength="511" lengthAdjust="spacingAndGlyphs">Frequency (GHz)</text>
<text transform="translate(80.6,1032) rotate(-90)" font-size="61.3" font-weight="bold" textLength="487" lengthAdjust="spacingAndGlyphs">Return loss (dB)</text>
<rect x="1277" y="522" width="494.5" height="188" fill="#fff" stroke="#222" stroke-width="2"/>
<line x1="1304.7" y1="571.5" x2="1444.5" y2="571.5" stroke="#000" stroke-width="13" stroke-dasharray="42 14"/>
<line x1="1304.7" y1="657.3" x2="1444" y2="657.3" stroke="#0073c6" stroke-width="21"/>
<text x="1457" y="594.5" font-size="64" textLength="290" lengthAdjust="spacingAndGlyphs">Measured</text>
<text x="1458" y="680" font-size="64" textLength="289" lengthAdjust="spacingAndGlyphs">Simulated</text>
<rect x="799.5" y="1221.5" width="188" height="117.5" fill="#fbfdec" stroke="#c8c8c8" stroke-width="2"/>
<text x="816.8" y="1273.4" font-size="40.7" textLength="135.2" lengthAdjust="spacingAndGlyphs">X: 1.001</text>
<text x="818" y="1315.1" font-size="40.7" textLength="148.8" lengthAdjust="spacingAndGlyphs">Y: -10.51</text>
<rect x="1058.5" y="1381.5" width="188" height="117" fill="#fbfdec" stroke="#c8c8c8" stroke-width="2"/>
<text x="1074.6" y="1432.6" font-size="40.7" textLength="141.4" lengthAdjust="spacingAndGlyphs">X: 1.008</text>
<text x="1075" y="1474.2" font-size="40.7" textLength="153.2" lengthAdjust="spacingAndGlyphs">Y: -12.24</text>
<rect x="991" y="1184" width="38" height="39" fill="#fefdf0"/>
<rect x="1021" y="1345.5" width="38" height="37" fill="#fefdf0"/>
<rect x="995.5" y="1189" width="28.5" height="28.5" fill="#000" stroke="#fffde0" stroke-width="2"/>
<rect x="1025.5" y="1349.5" width="28.5" height="28" fill="#000" stroke="#fffde0" stroke-width="2"/>
</svg></body></html>
